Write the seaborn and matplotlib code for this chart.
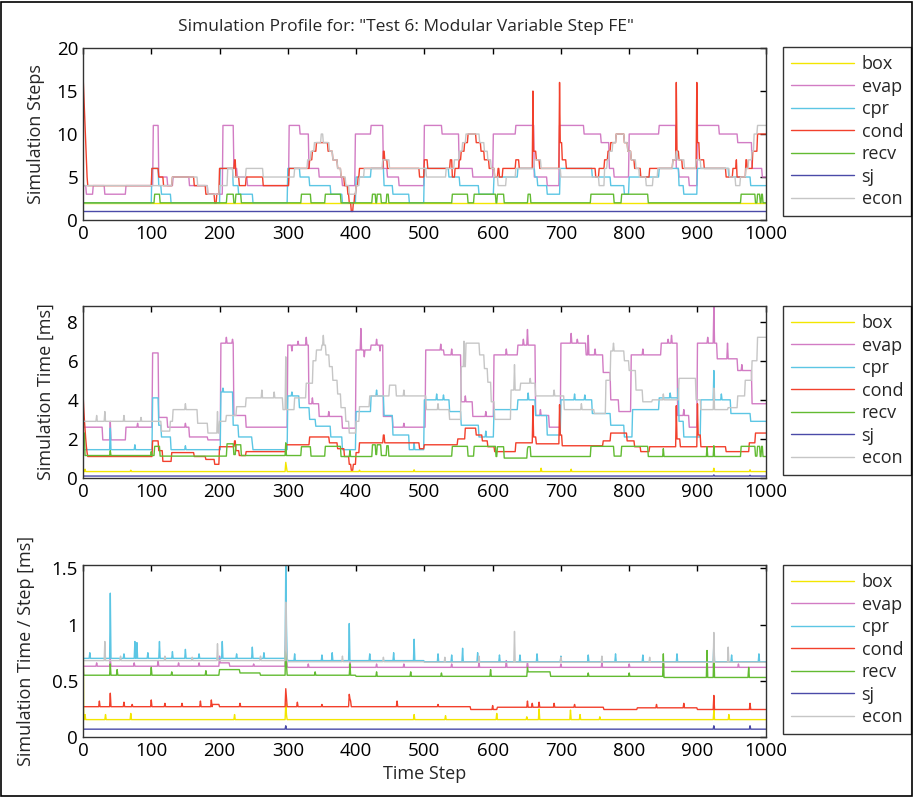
import matplotlib
matplotlib.use("Agg")
import matplotlib.pyplot as plt
from matplotlib.patches import Rectangle
import numpy as np
import pandas as pd
import seaborn as sns

# ---- data ---------------------------------------------------------------
# each series is given as (time step, value) pairs; the value holds until the
# next pair (the data is piecewise constant); extra single-sample spikes are
# listed separately.
N_STEPS = 1001
names = ["box", "evap", "cpr", "cond", "recv", "sj", "econ"]
colors = ["#f3e600", "#d27cc4", "#5cc6e4", "#f2402c", "#62bb32", "#4a4aa8", "#c6c6c6"]

# panel 1: simulation steps
box_steps = [(0, 2)]
sj_steps = [(0, 1)]
evap_steps = [(0, 4), (5, 3), (15, 4), (32, 3), (63, 4), (103, 11), (111, 5), (124, 4), (132, 5),
              (156, 4), (183, 3), (205, 11), (221, 6), (226, 5), (241, 4), (302, 11), (318, 10),
              (331, 6), (346, 5), (380, 4), (399, 10), (422, 11), (440, 6), (446, 5), (463, 4),
              (500, 11), (526, 10), (551, 6), (571, 5), (601, 10), (634, 11), (661, 5), (680, 4),
              (698, 11), (734, 10), (759, 9), (771, 6), (778, 5), (800, 10), (844, 11), (869, 6),
              (873, 5), (888, 4), (900, 11), (932, 10), (959, 9), (980, 6), (995, 5)]
cpr_steps = [(0, 2), (101, 6), (111, 4), (115, 3), (129, 2), (201, 6), (220, 4), (228, 3), (249, 2),
             (300, 6), (318, 5), (332, 4), (363, 3), (380, 2), (400, 5), (422, 6), (441, 4),
             (454, 3), (478, 2), (500, 6), (536, 5), (552, 4), (580, 3), (602, 5), (637, 6),
             (662, 5), (666, 4), (680, 3), (699, 6), (746, 5), (773, 4), (793, 3), (800, 5),
             (844, 6), (873, 4), (880, 3), (900, 6), (946, 5), (978, 4)]
cond_steps = [(0, 17), (1, 15), (2, 13), (3, 11), (4, 9), (5, 7), (6, 5), (7, 4), (101, 6), (111, 5),
              (118, 4), (131, 5), (163, 4), (180, 3), (193, 2), (196, 3), (200, 6), (222, 7),
              (224, 5), (229, 4), (239, 5), (264, 4), (302, 6), (332, 7), (336, 8), (342, 9),
              (359, 8), (366, 7), (373, 6), (378, 5), (383, 4), (388, 3), (390, 2), (393, 1),
              (396, 2), (398, 3), (400, 4), (403, 5), (405, 6), (440, 8), (442, 7), (446, 6),
              (493, 5), (500, 7), (505, 6), (538, 7), (541, 5), (545, 6), (551, 7), (554, 8),
              (559, 9), (564, 10), (576, 9), (583, 8), (588, 7), (595, 6), (603, 5), (608, 6),
              (610, 5), (615, 6), (634, 7), (639, 6), (659, 15), (660, 8), (664, 7), (669, 6),
              (698, 16), (699, 9), (702, 7), (708, 6), (751, 5), (756, 6), (764, 7), (769, 8),
              (773, 9), (781, 10), (793, 9), (798, 8), (803, 7), (808, 6), (817, 5), (830, 6),
              (864, 7), (869, 16), (870, 8), (873, 7), (878, 6), (899, 16), (900, 9), (903, 7),
              (910, 6), (942, 5), (952, 6), (957, 7), (958, 5), (971, 7), (973, 6), (981, 8),
              (988, 10)]
recv_steps = [(0, 2), (105, 3), (113, 2), (211, 3), (221, 2), (224, 3), (232, 2), (320, 3), (334, 2),
              (355, 3), (378, 2), (424, 3), (429, 2), (431, 3), (437, 2), (445, 3), (448, 2),
              (541, 3), (564, 2), (573, 3), (605, 2), (607, 3), (617, 2), (652, 3), (656, 2),
              (744, 3), (778, 2), (789, 3), (828, 2), (964, 3), (985, 2), (988, 3), (992, 2),
              (994, 3), (996, 2)]
econ_steps = [(0, 4), (131, 5), (168, 4), (183, 3), (200, 4), (212, 6), (220, 5), (239, 6), (264, 5),
              (310, 6), (329, 7), (334, 8), (339, 9), (349, 10), (352, 9), (361, 8), (366, 7),
              (373, 6), (378, 5), (385, 4), (390, 3), (400, 4), (405, 5), (412, 6), (439, 7),
              (449, 6), (503, 5), (532, 6), (544, 7), (551, 8), (556, 9), (561, 10), (581, 9),
              (588, 8), (593, 7), (598, 6), (603, 5), (608, 4), (620, 5), (634, 6), (661, 7),
              (671, 6), (700, 5), (756, 4), (764, 6), (768, 7), (771, 8), (776, 9), (781, 10),
              (793, 9), (798, 8), (803, 7), (810, 6), (815, 5), (825, 4), (835, 5), (842, 6),
              (864, 7), (869, 8), (871, 7), (881, 6), (898, 7), (905, 6), (947, 5), (956, 4),
              (963, 5), (971, 6), (975, 7), (980, 8), (983, 10), (988, 11)]

# panel 2: simulation time [ms]
box_ms = [(0, 0.33)]
box_ms_spikes = [(3, 0.45), (70, 0.4), (297, 0.8), (298, 0.55), (405, 0.4), (485, 0.42),
                 (671, 0.5), (715, 0.45), (924, 0.5), (977, 0.42)]
sj_ms = [(0, 0.1)]
sj_ms_spikes = [(924, 0.16), (977, 0.14)]
evap_ms = [(0, 2.6), (29, 1.95), (63, 2.6), (102, 6.4), (111, 3.1), (124, 2.6), (156, 2.1), (183, 1.95),
           (202, 6.9), (221, 3.2), (239, 2.6), (300, 6.8), (331, 3.8), (346, 3.15), (380, 2.55),
           (400, 6.55), (422, 6.8), (440, 3.15), (454, 2.6), (502, 6.55), (529, 6.3), (554, 3.9),
           (571, 3.15), (602, 6.3), (637, 6.8), (663, 3.2), (683, 2.6), (700, 6.9), (737, 6.3),
           (762, 5.4), (773, 4.0), (785, 3.4), (803, 6.3), (847, 6.9), (871, 3.2), (888, 2.6),
           (900, 6.9), (929, 6.1), (959, 5.5), (980, 3.8)]
evap_ms_spikes = [(40, 2.9), (80, 2.8), (150, 2.8), (210, 7.2), (219, 7.1), (306, 6.5), (315, 7.0),
                  (327, 7.2), (336, 4.1), (360, 3.4), (407, 7.65), (412, 6.2), (430, 7.1), (435, 6.5),
                  (470, 2.8), (524, 6.85), (540, 6.6), (560, 4.2), (590, 3.4), (620, 6.6), (645, 7.1),
                  (651, 7.6), (670, 3.5), (715, 7.4), (724, 7.1), (740, 7.3), (750, 6.6), (820, 6.6),
                  (857, 7.1), (862, 7.3), (880, 3.5), (915, 7.2), (924, 8.8), (944, 6.9), (965, 5.8)]
cpr_ms = [(0, 1.45), (102, 4.1), (111, 2.7), (115, 2.1), (129, 1.45), (202, 4.4), (220, 2.7),
          (228, 2.1), (249, 1.45), (300, 4.2), (317, 3.6), (332, 3.0), (341, 2.65), (363, 2.1),
          (380, 1.45), (400, 3.4), (422, 4.2), (441, 3.2), (454, 2.2), (478, 1.45), (500, 4.0),
          (537, 3.4), (554, 2.7), (580, 2.1), (602, 3.5), (637, 4.0), (663, 3.2), (680, 2.2),
          (700, 4.0), (746, 3.3), (773, 2.7), (793, 2.1), (805, 3.5), (844, 4.1), (873, 2.9),
          (880, 2.1), (905, 4.0), (949, 3.3), (978, 2.9)]
cpr_ms_spikes = [(40, 2.55), (76, 1.7), (150, 1.65), (205, 4.6), (248, 1.75), (306, 4.4), (430, 4.5),
                 (485, 1.8), (518, 4.3), (528, 4.25), (590, 2.4), (652, 4.35), (720, 4.3),
                 (735, 4.25), (860, 4.35), (872, 4.6), (924, 5.5), (935, 4.3)]
cond_ms = [(0, 4.4), (1, 3.6), (2, 3.0), (3, 2.5), (4, 2.0), (5, 1.6), (6, 1.3), (7, 1.1), (102, 1.9),
           (111, 1.4), (117, 0.85), (130, 1.3), (163, 1.1), (180, 0.95), (193, 0.7), (200, 1.6),
           (222, 1.9), (224, 1.4), (229, 1.15), (239, 1.35), (298, 1.7), (332, 2.1), (361, 1.8),
           (373, 1.5), (383, 1.1), (390, 0.7), (393, 0.4), (396, 0.7), (400, 1.3), (405, 1.8),
           (440, 2.2), (442, 1.8), (493, 1.5), (500, 1.7), (549, 2.0), (560, 2.55), (576, 2.2),
           (585, 1.9), (593, 1.6), (603, 1.35), (634, 1.8), (659, 3.7), (660, 2.1), (664, 1.75),
           (698, 3.75), (699, 2.2), (702, 1.65), (762, 1.9), (773, 2.3), (797, 1.9), (808, 1.6),
           (817, 1.35), (830, 1.6), (869, 3.7), (870, 2.0), (875, 1.6), (900, 3.8), (901, 2.2),
           (905, 1.6), (942, 1.35), (976, 1.8), (985, 2.3)]
recv_ms = [(0, 2.3), (3, 1.15), (105, 1.62), (113, 1.12), (211, 1.75), (221, 1.2), (224, 1.7),
           (232, 1.15), (320, 1.6), (334, 1.12), (355, 1.62), (378, 1.1), (424, 1.7), (429, 1.2),
           (431, 1.7), (437, 1.15), (445, 1.65), (448, 1.12), (541, 1.62), (564, 1.12), (573, 1.62),
           (605, 1.1), (607, 1.6), (617, 1.02), (652, 1.6), (656, 1.1), (744, 1.62), (778, 1.12),
           (789, 1.62), (828, 1.1), (964, 1.62), (985, 1.12), (988, 1.62), (992, 1.1), (994, 1.62),
           (996, 1.1)]
recv_ms_spikes = [(40, 1.4), (100, 1.35), (297, 1.8), (391, 1.4), (651, 1.5), (850, 1.5), (914, 1.6),
                  (924, 1.65)]
econ_ms = [(0, 2.9), (100, 2.9), (115, 2.4), (128, 2.9), (132, 3.5), (168, 2.8), (183, 2.3), (200, 2.9),
           (210, 3.2), (225, 3.65), (239, 4.1), (293, 3.5), (310, 4.1), (327, 4.85), (337, 6.0),
           (342, 6.55), (350, 6.8), (356, 6.3), (361, 5.7), (366, 5.0), (373, 4.3), (378, 3.6),
           (385, 2.9), (390, 2.3), (400, 2.9), (405, 3.65), (420, 4.2), (449, 4.75), (459, 4.2),
           (503, 3.5), (537, 3.0), (554, 5.7), (561, 6.9), (581, 6.3), (588, 5.6), (593, 4.9),
           (598, 3.9), (603, 3.0), (627, 4.5), (641, 4.85), (663, 4.2), (705, 3.5), (749, 3.3),
           (766, 5.0), (773, 6.5), (793, 6.0), (800, 5.5), (810, 4.5), (820, 3.9), (834, 4.0),
           (873, 5.1), (898, 4.0), (905, 3.5), (945, 3.6), (959, 4.2), (970, 5.0), (980, 6.0),
           (988, 7.2)]
econ_ms_spikes = [(20, 3.2), (32, 3.4), (60, 3.2), (85, 3.1), (150, 3.8), (197, 3.4), (262, 4.5),
                  (280, 4.4), (297, 6.2), (352, 7.3), (470, 4.5), (520, 3.8), (558, 7.0),
                  (632, 5.8), (655, 5.1), (690, 4.5), (730, 3.8), (777, 6.9), (850, 4.3),
                  (924, 4.6)]

# panel 3: simulation time per step [ms]
box_ps = [(0, 1.5), (1, 0.155)]
box_ps_spikes = [(3, 0.2), (33, 0.2), (70, 0.21), (222, 0.2), (297, 0.3), (298, 0.2), (485, 0.2),
                 (531, 0.19), (606, 0.21), (650, 0.18), (668, 0.25), (714, 0.24), (728, 0.2),
                 (757, 0.18), (924, 0.24), (946, 0.2)]
sj_ps = [(0, 0.07)]
sj_ps_spikes = [(297, 0.1), (924, 0.1), (977, 0.1)]
evap_ps = [(0, 0.63), (200, 0.66), (215, 0.63), (300, 0.62)]
evap_ps_spikes = [(20, 0.66), (40, 0.7), (75, 0.66), (110, 0.68), (140, 0.66), (170, 0.66),
                  (200, 0.72), (250, 0.65), (297, 0.95), (298, 0.75), (330, 0.65), (391, 0.68),
                  (430, 0.65), (470, 0.65), (540, 0.65), (580, 0.66), (620, 0.68), (651, 0.67),
                  (700, 0.65), (760, 0.66), (800, 0.65), (850, 0.67), (924, 0.7), (960, 0.65)]
cpr_ps = [(0, 0.7), (300, 0.68), (500, 0.67)]
cpr_ps_spikes = [(10, 0.75), (40, 1.28), (60, 0.74), (76, 0.85), (79, 0.84), (95, 0.75),
                 (112, 0.85), (131, 0.76), (150, 0.78), (170, 0.74), (204, 0.85), (225, 0.74),
                 (248, 0.8), (265, 0.75), (297, 1.55), (298, 1.0), (310, 0.74), (350, 0.73),
                 (365, 0.75), (390, 1.01), (420, 0.74), (455, 0.75), (485, 0.87), (520, 0.74),
                 (540, 0.73), (556, 0.79), (578, 0.75), (610, 0.73), (640, 0.73), (665, 0.74),
                 (700, 0.72), (740, 0.73), (780, 0.74), (820, 0.73), (870, 0.74), (924, 0.83),
                 (950, 0.73), (990, 0.74)]
cond_ps = [(0, 0.27), (190, 0.29), (200, 0.27), (568, 0.245), (607, 0.265), (763, 0.245),
           (812, 0.26), (900, 0.245)]
cond_ps_spikes = [(24, 0.32), (40, 0.39), (60, 0.31), (72, 0.29), (100, 0.33), (120, 0.3),
                  (145, 0.3), (172, 0.32), (188, 0.33), (230, 0.3), (297, 0.43), (298, 0.35),
                  (314, 0.31), (350, 0.29), (390, 0.38), (391, 0.34), (392, 0.32), (460, 0.32),
                  (520, 0.29), (600, 0.28), (651, 0.32), (658, 0.3), (668, 0.31), (690, 0.3),
                  (720, 0.29), (840, 0.29), (880, 0.3), (924, 0.37), (977, 0.3)]
recv_ps = [(0, 0.7), (1, 0.55), (200, 0.6), (230, 0.57), (260, 0.55), (400, 0.54), (651, 0.58),
           (685, 0.54), (850, 0.53)]
recv_ps_spikes = [(40, 0.65), (50, 0.6), (100, 0.62), (130, 0.58), (180, 0.59), (297, 0.85),
                  (298, 0.65), (340, 0.58), (391, 0.65), (430, 0.58), (480, 0.58), (525, 0.57),
                  (597, 0.6), (651, 0.62), (740, 0.57), (800, 0.57), (850, 0.74), (914, 0.77),
                  (924, 0.77), (975, 0.62)]
econ_ps = [(0, 0.68), (300, 0.67), (500, 0.665)]
econ_ps_spikes = [(32, 0.85), (55, 0.72), (120, 0.72), (160, 0.71), (197, 0.83), (260, 0.72),
                  (297, 1.2), (298, 0.8), (380, 0.72), (440, 0.71), (530, 0.71), (580, 0.72),
                  (632, 0.94), (700, 0.71), (760, 0.72), (830, 0.71), (924, 0.93), (945, 0.8)]


def expand(steps, spikes=()):
    starts = [s[0] for s in steps] + [N_STEPS]
    vals = np.repeat([s[1] for s in steps], np.diff(starts)).astype(float)
    for t, v in spikes:
        vals[t] = v
    return vals


panels = [
    {"box": expand(box_steps), "evap": expand(evap_steps), "cpr": expand(cpr_steps),
     "cond": expand(cond_steps), "recv": expand(recv_steps), "sj": expand(sj_steps),
     "econ": expand(econ_steps)},
    {"box": expand(box_ms, box_ms_spikes), "evap": expand(evap_ms, evap_ms_spikes),
     "cpr": expand(cpr_ms, cpr_ms_spikes), "cond": expand(cond_ms), "recv": expand(recv_ms, recv_ms_spikes),
     "sj": expand(sj_ms, sj_ms_spikes), "econ": expand(econ_ms, econ_ms_spikes)},
    {"box": expand(box_ps, box_ps_spikes), "evap": expand(evap_ps, evap_ps_spikes),
     "cpr": expand(cpr_ps, cpr_ps_spikes), "cond": expand(cond_ps, cond_ps_spikes),
     "recv": expand(recv_ps, recv_ps_spikes), "sj": expand(sj_ps, sj_ps_spikes),
     "econ": expand(econ_ps, econ_ps_spikes)},
]
ylabels = ["Simulation Steps", "Simulation Time [ms]", "Simulation Time / Step [ms]"]
ylims = [(0, 20), (0, 8.8), (0, 1.53)]
yticks = [[0, 5, 10, 15, 20], [0, 2, 4, 6, 8], [0, 0.5, 1, 1.5]]
yticklabels = [["0", "5", "10", "15", "20"], ["0", "2", "4", "6", "8"], ["0", "0.5", "1", "1.5"]]
ylabel_x = [-0.056, -0.041, -0.070]

# ---- plotting ----------------------------------------------------------
sns.set_style("white")
plt.rcParams["font.family"] = ["Open Sans", "DejaVu Sans"]

fig = plt.figure(figsize=(9.14, 7.98), dpi=100)
axes_rect = [(0.0908, 0.7243, 0.747, 0.2155),
             (0.0908, 0.4010, 0.747, 0.2155),
             (0.0908, 0.0764, 0.747, 0.2155)]
legend_top = [1 - 47 / 798, 1 - 306 / 798, 1 - 565 / 798]

t = np.arange(N_STEPS)
for i, data in enumerate(panels):
    ax = fig.add_axes(axes_rect[i])
    df = pd.concat([pd.DataFrame({"t": t, "value": data[n], "series": n}) for n in names])
    sns.lineplot(data=df, x="t", y="value", hue="series", hue_order=names, palette=colors,
                 estimator=None, linewidth=1.0, legend=False, ax=ax)
    ax.set_xlim(0, 1000)
    ax.set_ylim(*ylims[i])
    ax.set_xticks(range(0, 1001, 100))
    ax.set_yticks(yticks[i])
    ax.set_yticklabels(yticklabels[i])
    ax.tick_params(direction="in", length=4, width=1, top=True, right=True, labelsize=13.5,
                   colors="black")
    for sp in ax.spines.values():
        sp.set_color("#333333")
        sp.set_linewidth(1.0)
    ax.set_ylabel(ylabels[i], fontsize=13)
    ax.yaxis.set_label_coords(ylabel_x[i], 0.5)
    ax.set_xlabel("Time Step" if i == 2 else "", fontsize=13, labelpad=4)

    handles = ax.get_lines()[:len(names)]
    leg = ax.legend(handles, names, loc="upper left", bbox_to_anchor=(783 / 914, legend_top[i]),
                    bbox_transform=fig.transFigure, borderaxespad=0, fontsize=13,
                    handlelength=3.5, handletextpad=0.4, labelspacing=0.25, borderpad=0.45,
                    frameon=True, fancybox=False)
    leg.get_frame().set_edgecolor("black")
    leg.get_frame().set_linewidth(1.0)

fig.text(0.444, 0.966, 'Simulation Profile for: "Test 6: Modular Variable Step FE"',
         ha="center", va="center", fontsize=12.5)
fig.patches.append(Rectangle((0.001, 0.002), 0.997, 0.996, transform=fig.transFigure,
                             fill=False, edgecolor="black", linewidth=1.2))

fig.savefig("out.png", dpi=100)
